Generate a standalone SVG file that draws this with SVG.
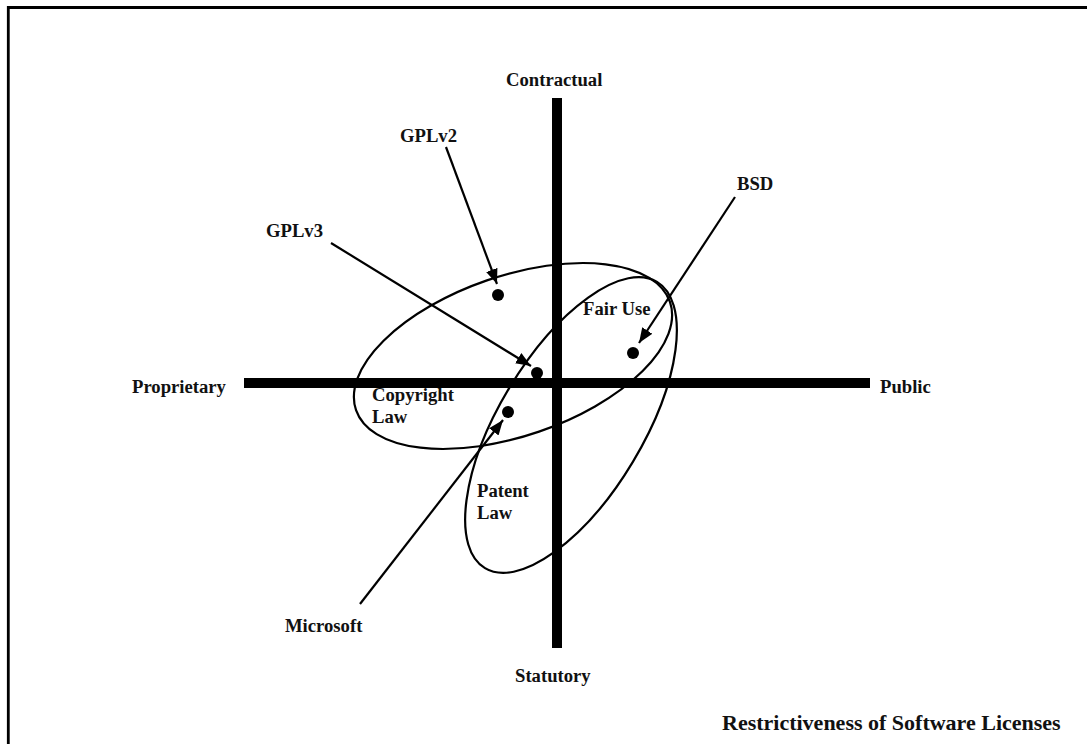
<svg xmlns="http://www.w3.org/2000/svg" width="1087" height="744" viewBox="0 0 1087 744">
  <defs>
    <style>
      .lbl { font-family: "Liberation Serif", "Times New Roman", serif; font-weight: bold; font-size: 18.67px; fill: #111; }
      .cap { font-family: "Liberation Serif", "Times New Roman", serif; font-weight: bold; font-size: 22px; fill: #111; }
      .axis { fill: #000; }
      .ell { fill: none; stroke: #000; stroke-width: 2.2; }
      .arr { fill: none; stroke: #000; stroke-width: 2.2; marker-end: url(#ah); }
      .dot { fill: #000; }
    </style>
    <marker id="ah" markerUnits="userSpaceOnUse" markerWidth="16" markerHeight="12" refX="15" refY="6" orient="auto">
      <path d="M0,0 L15,6 L0,12 z" fill="#000"/>
    </marker>
  </defs>
  <rect width="1087" height="744" fill="#fff"/>
  <path d="M8.3,744 V7.5 H1087" fill="none" stroke="#000" stroke-width="2.8"/>

  <g id="axes">
    <rect class="axis" x="244" y="378" width="626" height="10"/>
    <rect class="axis" x="552" y="98" width="10" height="550"/>
  </g>

  <g id="copyright-law">
    <ellipse class="ell" cx="513" cy="356" rx="166" ry="80" transform="rotate(-19 513 356)"/>
    <text class="lbl" x="372" y="401">Copyright</text>
    <text class="lbl" x="372" y="423">Law</text>
  </g>
  <g id="patent-law">
    <ellipse class="ell" cx="571" cy="425" rx="167" ry="72" transform="rotate(-59 571 425)"/>
    <text class="lbl" x="477" y="497">Patent</text>
    <text class="lbl" x="477" y="519">Law</text>
  </g>
  <g id="fair-use"><text class="lbl" x="583" y="315">Fair Use</text></g>

  <g id="contractual"><text class="lbl" x="506" y="86">Contractual</text></g>
  <g id="statutory"><text class="lbl" x="515" y="682">Statutory</text></g>
  <g id="proprietary"><text class="lbl" x="132" y="393">Proprietary</text></g>
  <g id="public"><text class="lbl" x="880" y="393">Public</text></g>

  <g id="gplv2">
    <text class="lbl" x="400" y="142">GPLv2</text>
    <circle class="dot" cx="498" cy="295" r="6"/>
  </g>
  <g id="gplv3">
    <text class="lbl" x="266" y="237">GPLv3</text>
    <circle class="dot" cx="537" cy="373" r="6"/>
  </g>
  <g id="bsd">
    <text class="lbl" x="737" y="190">BSD</text>
    <circle class="dot" cx="633" cy="353" r="6"/>
  </g>
  <g id="microsoft">
    <text class="lbl" x="285" y="632">Microsoft</text>
    <circle class="dot" cx="508" cy="412" r="6"/>
  </g>

  <g id="connectors">
    <line class="arr" x1="446" y1="147" x2="497" y2="284"/>
    <line class="arr" x1="331" y1="243" x2="531" y2="366"/>
    <line class="arr" x1="735" y1="197" x2="639" y2="343"/>
    <line class="arr" x1="360" y1="604" x2="503" y2="420"/>
  </g>

  <g id="caption"><text class="cap" x="722" y="730">Restrictiveness of Software Licenses</text></g>
</svg>
